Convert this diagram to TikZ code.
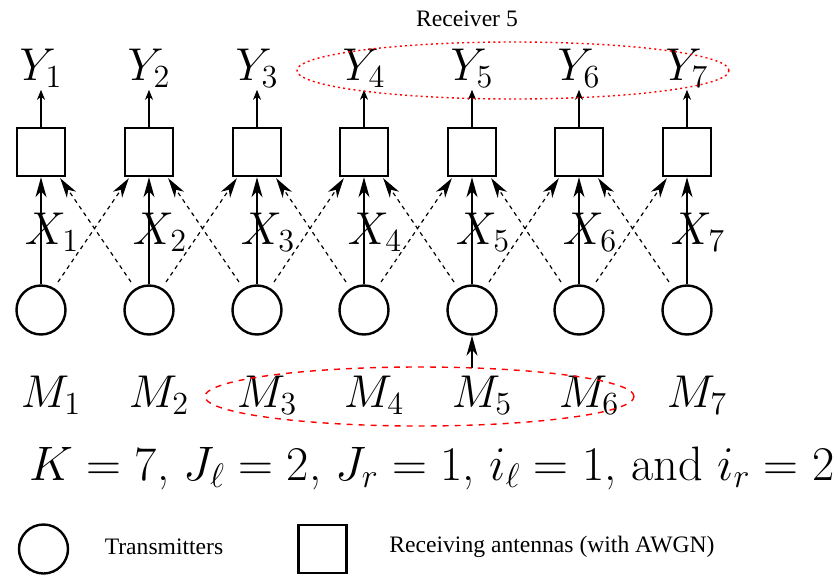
\RequirePackage{fix-cm}
\documentclass[tikz,border=0pt]{standalone}
\usepackage{amsmath}
\usepackage{fontspec}
\newfontfamily\capfont{Liberation Serif}
\usetikzlibrary{arrows.meta,positioning,calc}
\definecolor{RingRed}{HTML}{FF0000}

\begin{document}
\begin{tikzpicture}[x=0.5pt,y=0.5pt,
    tx/.style={circle, draw, line width=1.2pt, minimum size=24.5pt, inner sep=0pt},
    rx/.style={rectangle, draw, line width=1.2pt, minimum size=24pt, inner sep=0pt},
    sym/.style={font=\fontsize{23}{27}\selectfont, inner sep=0pt, outer sep=1pt},
    note/.style={font=\capfont\fontsize{11.8}{14}\selectfont},
    feed/.style={line width=0.7pt, -{Stealth[length=10pt,width=5.5pt,inset=3pt]}},
    xfeed/.style={feed, line width=0.6pt, dash pattern=on 2pt off 2pt},
    yout/.style={line width=0.6pt, -{Stealth[length=5pt,width=4pt,inset=1.5pt]}}]
  \useasboundingbox (0,0) rectangle (835,575);

  % one column per user: transmitter, receiving antenna, signals
  \foreach \i/\x in {1/41,2/149,3/257,4/364,5/472,6/579,7/687} {
    \node[rx] (r\i) at (\x,423) {};
    \node[tx] (t\i) at (\x,265) {};
    \node[sym, above=18.5pt of r\i] (y\i) {$Y_\i$};
    \node[sym] (x\i) at (\x+11,343) {$X_\i$};
    \node[sym] (m\i) at (\x+10,180) {$M_\i$};
    \draw[feed] (t\i) -- (r\i);
    \draw[yout] (r\i) -- (y\i);
  }

  % interference to the neighbouring antennas
  \foreach \i/\j in {1/2,2/3,3/4,4/5,5/6,6/7} {
    \draw[xfeed] ($(t\i)+(17,28)$) -- ($(r\j.south west)+(5,-1)$);
    \draw[xfeed] ($(t\j)+(-18,28)$) -- ($(r\i.south east)+(-6,-1)$);
  }

  % receiver 5 and the messages it knows
  \draw[RingRed, line width=0.7pt, dash pattern=on 1pt off 1.6pt]
    (513,504.5) ellipse [x radius=216, y radius=28.5];
  \node[note] (rcv) at (467,556) {Receiver 5};
  \draw[RingRed, line width=0.7pt, dash pattern=on 3pt off 3pt]
    (419.5,178.5) ellipse [x radius=214.5, y radius=29.5];
  \coordinate (m5in) at (472,207);
  \draw[feed] (m5in) -- (t5);

  \node[sym, font=\fontsize{24.2}{29}\selectfont] (params) at (432,107)
    {$K=7$, $J_\ell=2$, $J_r=1$, $i_\ell=1$, and $i_r=2$};

  % legend
  \node[tx] (ltx) at (43.5,26) {};
  \node[note] (ltxt) at (164,28) {Transmitters};
  \node[rx] (lrx) at (322.5,26) {};
  \node[note] (lrxt) at (552,28) {Receiving antennas (with AWGN)};
\end{tikzpicture}
\end{document}
